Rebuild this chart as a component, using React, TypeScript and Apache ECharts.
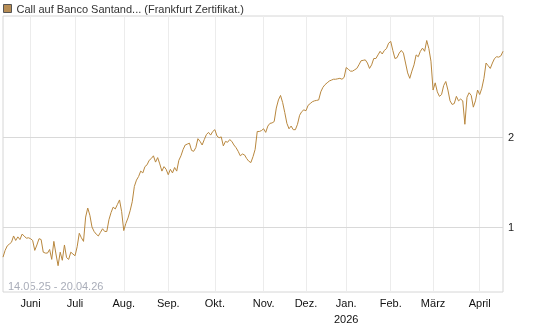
import React, { useEffect, useRef } from "react";
import * as echarts from "echarts";

const seriesName = "Call auf Banco Santand... (Frankfurt Zertifikat.)";
const rangeText = "14.05.25 - 20.04.26";
const startDate = "2025-05-14";
const endDate = "2026-04-20";
const holidays = ["2025-12-24", "2025-12-25", "2025-12-26", "2025-12-31", "2026-01-01", "2026-04-03", "2026-04-06"];
const monthNames = ["Jan.", "Feb.", "März", "April", "Mai", "Juni", "Juli", "Aug.", "Sep.", "Okt.", "Nov.", "Dez."];
const yGridValues = [1, 2];

const prices = [
  0.665, 0.74, 0.79, 0.81, 0.83, 0.9, 0.85, 0.89, 0.86, 0.92,
  0.9, 0.875, 0.88, 0.87, 0.85, 0.74, 0.8, 0.87, 0.86, 0.72,
  0.71, 0.71, 0.75, 0.64, 0.84, 0.7, 0.57, 0.72, 0.63, 0.8,
  0.66, 0.64, 0.72, 0.7, 0.68, 0.78, 0.93, 0.88, 0.84, 1.11,
  1.21, 1.13, 1.0, 0.95, 0.92, 0.9, 0.94, 0.98, 0.95, 0.95,
  1.08, 1.16, 1.22, 1.2, 1.25, 1.3, 1.17, 0.96, 1.04, 1.1,
  1.18, 1.28, 1.45, 1.52, 1.56, 1.62, 1.6, 1.67, 1.69, 1.74,
  1.76, 1.79, 1.72, 1.77, 1.7, 1.62, 1.67, 1.64, 1.58, 1.64,
  1.6, 1.66, 1.62, 1.74, 1.79, 1.86, 1.91, 1.92, 1.93, 1.85,
  1.84, 1.88, 1.98, 1.95, 1.91, 1.97, 2.025, 2.05, 2.02, 2.06,
  2.08, 2.01, 1.99, 2.0, 1.9, 1.95, 1.94, 1.97, 1.95, 1.91,
  1.88, 1.84, 1.79, 1.81, 1.8, 1.76, 1.73, 1.715, 1.78, 1.86,
  2.06, 2.06, 2.07, 2.09, 2.05, 2.12, 2.15, 2.155, 2.17, 2.32,
  2.41, 2.46, 2.38, 2.27, 2.15, 2.09, 2.12, 2.08, 2.08, 2.14,
  2.24, 2.28, 2.3, 2.29, 2.35, 2.37, 2.39, 2.4, 2.405, 2.41,
  2.5, 2.55, 2.58, 2.6, 2.62, 2.63, 2.64, 2.64, 2.645, 2.65,
  2.64, 2.66, 2.77, 2.75, 2.73, 2.73, 2.745, 2.76, 2.8, 2.845,
  2.85, 2.855, 2.82, 2.76, 2.8, 2.87, 2.87, 2.91, 2.95, 2.92,
  2.96, 2.98, 3.04, 3.06, 2.96, 2.87, 2.88, 2.93, 2.96, 2.93,
  2.82, 2.71, 2.65, 2.73, 2.8, 2.91, 2.89, 2.95, 2.985, 2.95,
  3.07, 2.98, 2.84, 2.52, 2.6, 2.5, 2.45, 2.47, 2.57, 2.615,
  2.52, 2.4, 2.36, 2.37, 2.45, 2.4, 2.42, 2.4, 2.14, 2.44,
  2.49, 2.46, 2.33, 2.4, 2.52, 2.47, 2.54, 2.65, 2.82, 2.79,
  2.76, 2.82, 2.87, 2.89, 2.885, 2.9, 2.95,
];

function buildTradingDays(): string[] {
  const out: string[] = [];
  const d = new Date(startDate + "T00:00:00Z");
  const end = new Date(endDate + "T00:00:00Z");
  while (d.getTime() <= end.getTime()) {
    const wd = d.getUTCDay();
    const s = d.toISOString().slice(0, 10);
    if (wd !== 0 && wd !== 6 && holidays.indexOf(s) < 0) out.push(s);
    d.setUTCDate(d.getUTCDate() + 1);
  }
  return out;
}

export default function App() {
  const ref = useRef<HTMLDivElement>(null);
  useEffect(() => {
    if (!ref.current) return;
    const chart = echarts.init(ref.current, undefined, { renderer: "svg" });
    const dates = buildTradingDays();
    const isMonthStart = (i: number) =>
      i > 0 && i < dates.length && dates[i].slice(5, 7) !== dates[i - 1].slice(5, 7);
    const font = "'Liberation Sans', Arial, sans-serif";
    chart.setOption({
      animation: false,
      legend: {
        left: 3,
        top: 3,
        padding: 0,
        itemWidth: 8,
        itemHeight: 8,
        icon: "rect",
        data: [seriesName],
        itemStyle: { color: "#b78d55", borderColor: "#555", borderWidth: 1 },
        textStyle: { color: "#333", fontSize: 11, fontFamily: font },
      },
      grid: { left: 3, right: 42, top: 16, bottom: 34, show: true, borderColor: "#d6d6d6", borderWidth: 1 },
      xAxis: {
        type: "category",
        data: dates,
        boundaryGap: false,
        axisLine: { show: false },
        axisTick: { show: false },
        axisLabel: {
          interval: (i: number) => isMonthStart(i),
          formatter: (v: string) => {
            const m = parseInt(v.slice(5, 7), 10) - 1;
            return m === 0 ? monthNames[m] + "\n" + v.slice(0, 4) : monthNames[m];
          },
          color: "#111",
          fontSize: 11,
          fontFamily: font,
          margin: 3,
          lineHeight: 16,
        },
        splitLine: { show: true, interval: (i: number) => isMonthStart(i), lineStyle: { color: "#ececec", width: 1 } },
      },
      yAxis: {
        type: "value",
        position: "right",
        min: 0.278,
        max: 3.342,
        axisLabel: { show: false },
        axisLine: { show: false },
        axisTick: { show: false },
        splitLine: { show: false },
      },
      series: [
        {
          type: "line",
          name: seriesName,
          data: prices,
          showSymbol: false,
          symbol: "none",
          z: 3,
          lineStyle: { color: "#b8873e", width: 1 },
          itemStyle: { color: "#b78d55" },
          markLine: {
            silent: true,
            z: 1,
            symbol: "none",
            lineStyle: { color: "#d9d9d9", type: "solid", width: 1 },
            label: { position: "end", formatter: (p: any) => String(p.value), color: "#222", fontSize: 11, fontFamily: font, distance: 5 },
            data: yGridValues.map((v) => ({ yAxis: v })),
          },
        },
      ],
      graphic: [
        {
          type: "text",
          left: 8,
          top: 280,
          style: { text: rangeText, fill: "#a9adb9", font: "11px 'Liberation Sans', Arial, sans-serif" },
        },
      ],
    });
    return () => chart.dispose();
  }, []);
  return <div ref={ref} style={{ position: "fixed", left: 0, top: 0, width: 545, height: 327 }} />;
}
